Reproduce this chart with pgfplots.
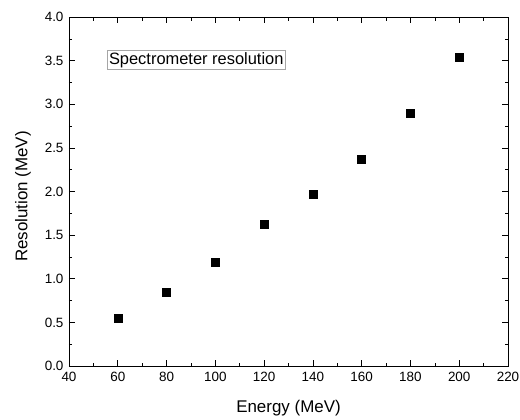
\documentclass[border=0pt]{standalone}
\usepackage{pgfplots}
\pgfplotsset{compat=1.18}
\usepackage{fontspec}
\setmainfont{Liberation Sans}
\begin{document}
\begin{tikzpicture}
\useasboundingbox (-69bp,-54bp) rectangle (451bp,366bp);
\begin{axis}[
  at={(0,0)}, anchor=south west,
  width=439bp, height=349bp, scale only axis,
  xmin=40, xmax=220, ymin=0, ymax=4.0,
  xtick={40,60,...,220}, ytick={0,0.5,...,4.0},
  minor x tick num=1, minor y tick num=1,
  tick align=inside,
  major tick length=6bp, minor tick length=3.5bp,
  xticklabel style={font=\fontsize{13.5}{14}\selectfont, /pgf/number format/fixed, yshift=-3bp},
  yticklabel style={font=\fontsize{13.5}{14}\selectfont, /pgf/number format/fixed, /pgf/number format/fixed zerofill, /pgf/number format/precision=1, xshift=-2bp},
  /pgf/number format/assume math mode=true,
  xlabel={Energy (MeV)}, ylabel={Resolution (MeV)},
  label style={font=\fontsize{17}{19}\selectfont},
  xlabel shift=11bp,
  ylabel shift=7bp,
  ylabel style={xshift=-5bp},
  axis line style={line width=0.8bp},
  every tick/.style={black, line width=0.6bp},
]
\addplot[only marks, mark=square*, mark size=4bp, black] coordinates {
(60,0.55) (80,0.85) (100,1.185) (120,1.63) (140,1.97) (160,2.375) (180,2.895) (200,3.54)
};
\node[draw=gray!70, fill=white, anchor=west, inner sep=2bp, font=\fontsize{16.5}{18}\selectfont] at (axis cs:55.5,3.51) {Spectrometer resolution};
\end{axis}
\end{tikzpicture}
\end{document}
